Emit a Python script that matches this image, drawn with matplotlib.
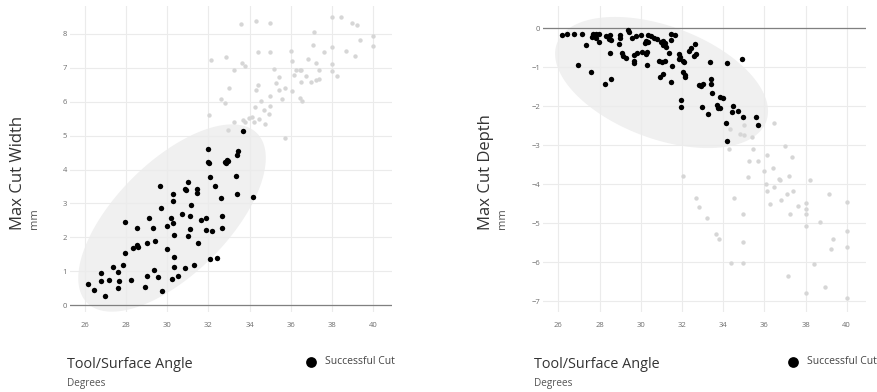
import numpy as np
import matplotlib
matplotlib.use("Agg")
import matplotlib.pyplot as plt
from matplotlib.patches import Polygon

plt.rcParams["font.family"] = ["Open Sans", "DejaVu Sans"]

# ---- data ------------------------------------------------------------------
width_ok_angle = [
    26.16, 26.44, 26.76, 26.76, 26.96, 27.15, 27.35, 27.62, 27.65, 27.60,
    27.85, 27.93, 27.94, 28.25, 28.33, 28.51, 28.51, 28.57, 28.90, 29.00,
    29.00, 29.11, 29.29, 29.34, 29.42, 29.56, 29.66, 29.71, 29.74, 30.00,
    30.00, 30.20, 30.23, 30.28, 30.28, 30.28, 30.33, 30.34, 30.34, 30.50,
    30.72, 30.86, 30.90, 30.99, 30.99, 31.12, 31.10, 30.86, 31.17, 31.32,
    31.43, 31.46, 31.51, 31.66, 31.87, 31.87, 31.99, 31.96, 32.04, 32.06,
    32.08, 32.17, 32.32, 32.43, 32.63, 32.65, 32.65, 32.81, 32.89, 32.97,
    32.86, 33.34, 33.41, 33.45, 33.40, 33.70, 34.18]
width_ok_value = [
    0.62, 0.45, 0.95, 0.72, 0.26, 0.73, 1.14, 0.98, 0.71, 0.52,
    1.19, 2.46, 1.55, 0.74, 1.69, 2.29, 1.77, 1.71, 0.53, 0.86,
    1.82, 2.56, 2.29, 1.03, 1.89, 0.82, 3.50, 2.86, 0.42, 2.33,
    1.66, 2.57, 0.78, 2.42, 3.28, 3.08, 2.06, 1.41, 1.13, 0.86,
    2.69, 3.43, 3.40, 3.63, 2.05, 2.62, 2.25, 1.11, 2.95, 1.18,
    3.43, 3.31, 1.84, 2.51, 2.56, 2.23, 4.60, 4.23, 4.20, 3.78,
    1.36, 2.19, 3.52, 1.38, 3.15, 2.62, 2.29, 4.23, 4.28, 4.26,
    4.18, 3.82, 3.28, 4.55, 4.42, 5.14, 3.20]

width_fail_angle = [
    33.56, 34.29, 35.00, 38.00, 38.44, 38.99, 39.22, 37.14, 40.02, 40.02,
    39.35, 37.07, 38.02, 37.64, 38.70, 39.14, 32.13, 32.86, 34.41, 35.00,
    36.00, 36.06, 36.85, 37.24, 38.02, 33.63, 33.80, 33.24, 35.20, 36.26,
    36.46, 36.52, 37.37, 38.00, 38.24, 36.15, 36.73, 35.41, 37.00, 37.24,
    37.40, 36.49, 35.27, 34.39, 35.74, 35.43, 34.33, 32.99, 36.08, 35.00,
    32.63, 35.59, 36.47, 36.57, 32.80, 34.54, 34.28, 35.00, 34.72, 34.96,
    32.05, 34.47, 34.13, 33.98, 33.66, 33.80, 34.23, 34.76, 33.22, 32.96,
    35.71]
width_fail_value = [
    8.29, 8.38, 8.33, 8.50, 8.51, 8.32, 8.26, 8.05, 7.95, 7.63,
    7.81, 7.68, 7.62, 7.45, 7.49, 7.35, 7.24, 7.33, 7.47, 7.47,
    7.48, 7.21, 7.25, 7.13, 7.12, 7.13, 7.04, 6.92, 6.96, 6.94,
    6.93, 6.92, 6.94, 6.89, 6.75, 6.78, 6.76, 6.72, 6.59, 6.64,
    6.67, 6.57, 6.54, 6.49, 6.41, 6.34, 6.34, 6.39, 6.32, 6.16,
    6.09, 6.07, 6.10, 6.01, 5.95, 6.01, 5.84, 5.88, 5.76, 5.65,
    5.60, 5.50, 5.55, 5.51, 5.45, 5.39, 5.40, 5.35, 5.39, 5.17,
    4.94]

depth_ok_angle = [
    26.18, 26.44, 26.76, 27.15, 27.34, 26.95, 27.60, 27.66, 27.63, 27.84,
    27.97, 27.82, 27.95, 28.27, 28.58, 28.32, 28.53, 28.45, 28.54, 28.93,
    28.98, 28.99, 28.50, 29.09, 29.14, 29.29, 29.37, 29.43, 29.59, 29.76,
    30.00, 29.69, 29.84, 29.67, 29.67, 30.05, 30.24, 30.30, 30.25, 30.22,
    30.34, 30.35, 30.48, 30.64, 30.30, 30.78, 30.99, 31.10, 31.25, 31.20,
    31.07, 31.37, 31.47, 31.67, 31.46, 30.89, 31.03, 31.20, 30.95, 31.08,
    31.47, 31.53, 31.86, 31.91, 31.88, 32.07, 32.10, 32.35, 32.43, 32.64,
    32.67, 32.59, 32.04, 32.13, 32.15, 32.85, 32.93, 33.04, 31.97, 31.94,
    32.98, 33.35, 34.17, 34.93, 33.41, 33.41, 33.48, 33.85, 33.99, 33.69,
    33.77, 33.85, 33.25, 34.48, 34.42, 34.72, 34.95, 35.61, 35.71, 34.14,
    34.19]
depth_ok_value = [
    -0.18, -0.15, -0.15, -0.16, -0.43, -0.93, -1.12, -0.16, -0.22, -0.14,
    -0.15, -0.25, -0.34, -1.42, -1.30, -0.19, -0.18, -0.28, -0.31, -0.41,
    -0.17, -0.25, -0.63, -0.63, -0.70, -0.76, -0.04, -0.09, -0.25, -0.21,
    -0.18, -0.69, -0.63, -0.85, -0.89, -0.60, -0.65, -0.62, -0.32, -0.37,
    -0.34, -0.17, -0.21, -0.24, -0.94, -0.28, -0.35, -0.42, -0.47, -0.39,
    -0.33, -0.63, -0.15, -0.18, -0.30, -0.85, -0.87, -0.84, -1.24, -1.16,
    -1.38, -0.97, -0.65, -0.74, -0.80, -0.84, -0.87, -0.58, -0.50, -0.41,
    -0.67, -0.71, -1.12, -1.24, -1.19, -1.46, -1.47, -1.44, -1.84, -2.02,
    -2.03, -0.87, -0.88, -0.79, -1.29, -1.43, -1.65, -1.75, -1.78, -1.96,
    -2.05, -2.05, -2.19, -1.99, -2.14, -2.12, -2.27, -2.27, -2.49, -2.42,
    -2.89]

depth_fail_angle = [
    34.34, 35.01, 34.82, 35.01, 35.40, 36.47, 34.30, 35.44, 37.00, 36.12,
    35.27, 35.71, 37.34, 36.44, 35.99, 37.21, 35.22, 36.72, 38.23, 36.07,
    36.13, 36.47, 36.76, 37.09, 37.39, 32.05, 39.13, 32.68, 34.53, 32.81,
    33.20, 33.65, 33.82, 34.98, 34.98, 34.40, 34.98, 36.26, 36.83, 37.23,
    37.63, 38.00, 38.00, 38.00, 38.00, 38.69, 39.34, 39.22, 40.00, 40.00,
    40.00, 38.43, 37.14, 38.93, 38.00, 40.00]
depth_fail_value = [
    -2.59, -2.48, -2.72, -2.73, -2.79, -2.43, -3.10, -3.10, -3.01, -3.25,
    -3.39, -3.41, -3.31, -3.59, -3.65, -3.78, -3.82, -3.86, -3.89, -4.00,
    -4.16, -4.08, -3.89, -4.25, -4.16, -3.78, -4.25, -4.34, -4.34, -4.57,
    -4.87, -5.27, -5.40, -4.76, -5.48, -6.01, -6.02, -4.51, -4.40, -4.77,
    -4.55, -4.48, -4.62, -4.77, -5.07, -4.96, -5.41, -5.66, -4.46, -5.19,
    -5.60, -6.04, -6.34, -6.62, -6.78, -6.91]

x_ticks = [26, 28, 30, 32, 34, 36, 38, 40]
width_ticks = [0, 1, 2, 3, 4, 5, 6, 7, 8]
depth_ticks = [0, -1, -2, -3, -4, -5, -6, -7]

# highlight ellipses: centre and two conjugate semi-axes, in data units
width_ellipse = ((30.23, 2.57), (4.13, 2.50), (1.93, -1.17))
depth_ellipse = ((31.01, -1.39), (5.08, -1.00), (-0.95, -1.35))

BLACK = "#000000"
GREY_DOT = "#d6d6d6"
ELLIPSE = "#f0f0f0"
GRID = "#ebebeb"
TICK = "#6e6e6e"
TEXT = "#333333"

W, H = 877, 392


def ellipse_patch(spec):
    (cx, cy), (ax_, ay_), (bx, by) = spec
    t = np.linspace(0, 2 * np.pi, 200)
    xs = cx + ax_ * np.cos(t) + bx * np.sin(t)
    ys = cy + ay_ * np.cos(t) + by * np.sin(t)
    return Polygon(np.column_stack([xs, ys]), closed=True,
                   facecolor=ELLIPSE, edgecolor="none", zorder=0.3)


def style_axes(ax, yticks, ylim):
    ax.set_xlim(25.25, 40.93)
    ax.set_ylim(*ylim)
    ax.set_xticks(x_ticks)
    ax.set_yticks(yticks)
    ax.grid(True, color=GRID, linewidth=0.8)
    ax.set_axisbelow(True)
    ax.axhline(0, color="#808080", linewidth=0.9, zorder=1)
    for s in ax.spines.values():
        s.set_visible(False)
    ax.tick_params(length=0, labelsize=5.5, labelcolor=TICK)
    ax.tick_params(axis="x", pad=7)
    ax.tick_params(axis="y", pad=2)


def fx(px):
    return px / W


def fy(py):
    return 1 - py / H


fig = plt.figure(figsize=(W / 100, H / 100), dpi=100)

ax1 = fig.add_axes([fx(69.6), fy(312), fx(392.1) - fx(69.6), (312 - 6) / H])
ax2 = fig.add_axes([fx(542.9), fy(312), fx(865.9) - fx(542.9), (312 - 6) / H])

style_axes(ax1, width_ticks, (-0.2, 8.82))
style_axes(ax2, depth_ticks, (-7.27, 0.57))

ax1.add_patch(ellipse_patch(width_ellipse))
ax2.add_patch(ellipse_patch(depth_ellipse))

ax1.scatter(width_fail_angle, width_fail_value, s=10, color=GREY_DOT,
            linewidths=0, zorder=2)
ax1.scatter(width_ok_angle, width_ok_value, s=15, color=BLACK,
            linewidths=0, zorder=3, label="Successful Cut")
ax2.scatter(depth_fail_angle, depth_fail_value, s=10, color=GREY_DOT,
            linewidths=0, zorder=2)
ax2.scatter(depth_ok_angle, depth_ok_value, s=15, color=BLACK,
            linewidths=0, zorder=3, label="Successful Cut")

# axis titles
for x0, name in [(18, "Max Cut Width"), (486, "Max Cut Depth")]:
    fig.text(fx(x0), fy(230), name, rotation=90, ha="center", va="bottom",
             fontsize=12, color=TEXT)
    fig.text(fx(x0 + 17), fy(229), "mm", rotation=90, ha="center",
             va="bottom", fontsize=8, color="#555555")

for x0 in (67, 534):
    fig.text(fx(x0), fy(368), "Tool/Surface Angle", ha="left",
             va="baseline", fontsize=10.4, color=TEXT)
    fig.text(fx(x0), fy(386), "Degrees", ha="left", va="baseline",
             fontsize=7.2, color="#555555")

for ax, lx in [(ax1, 306), (ax2, 788)]:
    ax.legend(loc="center left", bbox_to_anchor=(fx(lx), fy(362)),
              bbox_transform=fig.transFigure, frameon=False, fontsize=7.5,
              markerscale=2.0, handlelength=1.0, handletextpad=0.8,
              borderpad=0, borderaxespad=0, labelcolor="#444444")

fig.savefig("out.png", dpi=100)
